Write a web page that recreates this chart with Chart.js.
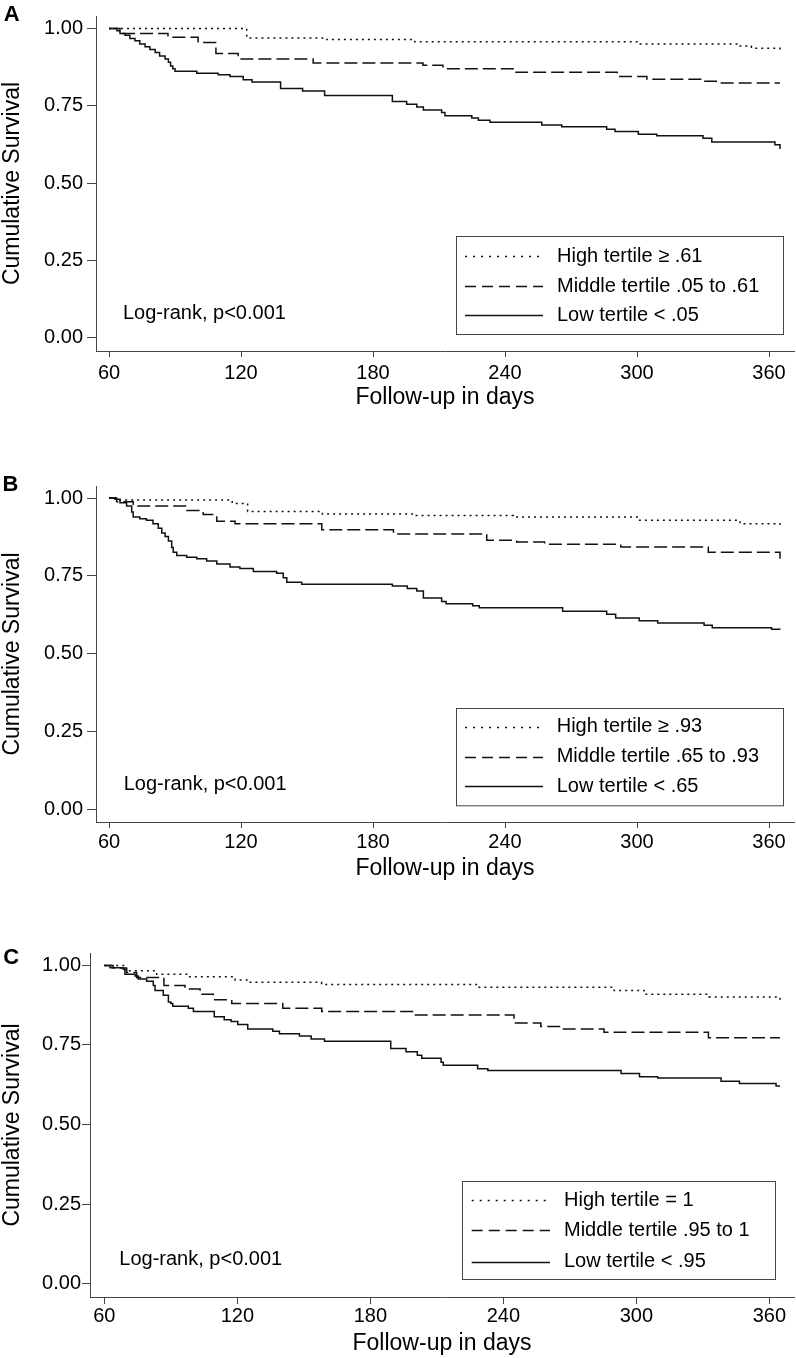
<!DOCTYPE html>
<html><head><meta charset="utf-8">
<script src="https://cdn.jsdelivr.net/npm/chart.js@4.4.1/dist/chart.umd.min.js"></script>
<style>
html,body{margin:0;padding:0;background:#fff;}
body{width:796px;height:1358px;position:relative;overflow:hidden;}
.panel{position:absolute;left:0;width:796px;}
canvas{display:block;}
</style></head><body>
<div class="panel" style="top:0px;height:410px"><canvas id="cA" width="796" height="410"></canvas></div>
<div class="panel" style="top:470px;height:411px"><canvas id="cB" width="796" height="411"></canvas></div>
<div class="panel" style="top:940px;height:416px"><canvas id="cC" width="796" height="416"></canvas></div>
<script>
// ---------- tick labels ----------
const xTicks = [60, 120, 180, 240, 300, 360];
const yTicks = [0, 0.25, 0.5, 0.75, 1];
const xTitle = 'Follow-up in days';
const yTitle = 'Cumulative Survival';
const noteText = 'Log-rank, p<0.001';

// ---------- Panel A ----------
const aLabels = ['High tertile \u2265 .61', 'Middle tertile .05 to .61', 'Low tertile < .05'];
const aHighDays = [60, 122.6, 159, 199, 300.6, 346, 352, 365];
const aHighSurv = [1.000, 0.969, 0.964, 0.957, 0.950, 0.943, 0.936, 0.925];
const aMidDays = [60, 65, 86.8, 100.5, 108.6, 118.7, 152.8, 202.7, 211.8, 245, 291, 304.5, 329, 336, 365];
const aMidSurv = [1.000, 0.984, 0.972, 0.955, 0.919, 0.901, 0.888, 0.881, 0.870, 0.858, 0.845, 0.836, 0.829, 0.824, 0.824];
const aLowDays = [60, 63.6, 65, 67.3, 69.5, 71.8, 74, 76.4, 78.6, 81, 83, 85.5, 87, 88, 89, 90, 99.9, 109.6, 115, 121, 125, 138, 148, 158, 188.8, 195.3, 199.9, 202.9, 211.2, 212.7, 224.9, 227.9, 233.2, 256.7, 265.8, 286.2, 290, 300.6, 309, 330, 334, 362.7, 365];
const aLowSurv = [1.000, 0.993, 0.984, 0.978, 0.968, 0.960, 0.950, 0.941, 0.932, 0.922, 0.911, 0.901, 0.891, 0.879, 0.870, 0.862, 0.855, 0.850, 0.845, 0.834, 0.827, 0.806, 0.798, 0.783, 0.764, 0.755, 0.746, 0.736, 0.728, 0.718, 0.710, 0.703, 0.697, 0.688, 0.682, 0.674, 0.667, 0.658, 0.653, 0.645, 0.633, 0.624, 0.610];

// ---------- Panel B ----------
const bLabels = ['High tertile \u2265 .93', 'Middle tertile .65 to .93', 'Low tertile < .65'];
const bHighDays = [60, 63, 116, 123, 157, 199, 243.8, 300.6, 346.8, 365];
const bHighSurv = [1.000, 0.994, 0.983, 0.957, 0.949, 0.944, 0.939, 0.929, 0.918, 0.913];
const bMidDays = [60, 63.5, 71, 95.3, 102.8, 109, 117.3, 156.7, 189.3, 231.7, 245.3, 258, 292.6, 332.4, 365];
const bMidSurv = [1.000, 0.988, 0.975, 0.960, 0.947, 0.926, 0.918, 0.898, 0.885, 0.865, 0.859, 0.852, 0.843, 0.826, 0.805];
const bLowDays = [60, 62.7, 65, 68, 70.3, 71, 74, 77, 80, 82.4, 84, 85.5, 87, 88.5, 89.2, 90.8, 95.3, 99.9, 104.4, 109, 115, 119.5, 125.6, 136.2, 139.2, 140.8, 147.6, 188.8, 195.6, 199.9, 202.9, 211.2, 213.2, 225.3, 228.3, 266.2, 286.2, 290.3, 301, 309.4, 330.5, 334.2, 361.2, 365];
const bLowSurv = [1.000, 0.996, 0.985, 0.975, 0.955, 0.939, 0.934, 0.929, 0.918, 0.903, 0.888, 0.877, 0.862, 0.841, 0.826, 0.816, 0.810, 0.805, 0.798, 0.788, 0.779, 0.774, 0.764, 0.759, 0.744, 0.730, 0.723, 0.718, 0.710, 0.702, 0.679, 0.668, 0.661, 0.654, 0.648, 0.637, 0.627, 0.615, 0.606, 0.599, 0.592, 0.584, 0.579, 0.578];

// ---------- Panel C ----------
const cLabels = ['High tertile = 1', 'Middle tertile .95 to 1', 'Low tertile < .95'];
const cHighDays = [60, 69.3, 83.6, 97.9, 119, 125, 158, 228.4, 290, 303.5, 332.8, 364.8];
const cHighSurv = [1.000, 0.983, 0.972, 0.964, 0.954, 0.947, 0.940, 0.931, 0.921, 0.909, 0.901, 0.880];
const cMidDays = [60, 64, 70.1, 74.6, 86.9, 96.4, 103.2, 109.2, 117.5, 140.5, 158.1, 199.7, 244.8, 256.9, 265.9, 285.4, 332.5, 364.8];
const cMidSurv = [1.000, 0.992, 0.978, 0.962, 0.937, 0.926, 0.909, 0.892, 0.880, 0.865, 0.855, 0.844, 0.819, 0.808, 0.800, 0.790, 0.773, 0.773];
const cLowDays = [60, 62.6, 68.6, 69.3, 73.9, 75.3, 79.1, 82.1, 82.9, 86.6, 88.9, 90, 90.9, 97.9, 100.2, 109.6, 114.1, 117.2, 120.2, 124.7, 136, 139, 148, 153.3, 159.3, 189.2, 196.1, 201.2, 203.2, 211.9, 212.9, 228.4, 233, 293.1, 301.4, 309.6, 338.2, 346.5, 363, 364.8];
const cLowSurv = [1.000, 0.993, 0.988, 0.972, 0.967, 0.957, 0.950, 0.937, 0.921, 0.906, 0.885, 0.880, 0.872, 0.865, 0.855, 0.839, 0.829, 0.824, 0.814, 0.800, 0.793, 0.785, 0.778, 0.769, 0.762, 0.739, 0.729, 0.718, 0.708, 0.696, 0.686, 0.675, 0.670, 0.660, 0.650, 0.646, 0.636, 0.629, 0.621, 0.621];

// ---------- rendering ----------
const FAMILY = '"Liberation Sans", Arial, Helvetica, sans-serif';
Chart.defaults.font.family = FAMILY;
const AXIS = '#454545';
const INK = '#111';

const decor = {
  id: 'kmDecor',
  afterDraw(chart, args, o) {
    const ctx = chart.ctx;
    ctx.save();
    ctx.fillStyle = '#000';
    ctx.font = 'bold 22px ' + FAMILY;
    ctx.textAlign = 'center';
    ctx.textBaseline = 'middle';
    ctx.fillText(o.letter, o.letterX, o.letterY);
    ctx.font = '20px ' + FAMILY;
    ctx.textAlign = 'left';
    ctx.textBaseline = 'alphabetic';
    ctx.fillText(o.note, o.noteX, o.noteY);
    const L = o.legend;
    ctx.strokeStyle = AXIS;
    ctx.lineWidth = 1;
    ctx.strokeRect(Math.round(L.left) + 0.5, Math.round(L.top) + 0.5, L.width, L.height);
    chart.data.datasets.forEach((ds, i) => {
      const y = L.top + L.rows[i];
      ctx.beginPath();
      ctx.setLineDash(ds.legendDash || []);
      ctx.lineWidth = 1.3;
      ctx.strokeStyle = INK;
      ctx.moveTo(L.left + L.lineX0, Math.round(y) + 0.5);
      ctx.lineTo(L.left + L.lineX1, Math.round(y) + 0.5);
      ctx.stroke();
      ctx.setLineDash([]);
      ctx.fillStyle = '#000';
      ctx.textBaseline = 'middle';
      ctx.fillText(ds.label, L.left + L.textX, y);
    });
    ctx.restore();
  }
};

function series(label, days, surv, dash, legendDash) {
  return {
    label: label,
    data: days.map((d, i) => ({ x: d, y: surv[i] })),
    borderColor: INK,
    borderWidth: 1.5,
    borderDash: dash,
    legendDash: legendDash,
    pointRadius: 0,
    fill: false,
    stepped: 'before',
    tension: 0
  };
}

const DOT = [2, 4], DASH = [13, 5];
const DOT_L = [2, 6], DASH_L = [11, 6];

function makeChart(id, labels, high, mid, low, p) {
  new Chart(document.getElementById(id), {
    type: 'line',
    data: {
      datasets: [
        series(labels[0], high[0], high[1], DOT, DOT_L),
        series(labels[1], mid[0], mid[1], DASH, DASH_L),
        series(labels[2], low[0], low[1], [], [])
      ]
    },
    options: {
      responsive: false,
      animation: false,
      events: [],
      layout: { padding: { top: p.padTop, right: 2, left: 0, bottom: 0 } },
      plugins: {
        legend: { display: false },
        tooltip: { enabled: false },
        kmDecor: p.decor
      },
      scales: {
        x: {
          type: 'linear', position: 'bottom', min: p.xMin, max: p.xMax,
          afterBuildTicks: s => { s.ticks = xTicks.map(v => ({ value: v })); },
          afterFit: s => { s.height = 59; },
          grid: { display: true, drawOnChartArea: false, drawTicks: true, tickLength: p.xTl, tickColor: AXIS, tickWidth: 1 },
          border: { display: true, color: AXIS, width: 1 },
          ticks: { padding: p.xPad, color: '#000', font: { size: 20 }, maxRotation: 0, autoSkip: false, callback: v => String(v) },
          title: { display: true, text: xTitle, color: '#000', font: { size: 23, lineHeight: 1 }, padding: { top: 0, bottom: 1.2 } }
        },
        y: {
          type: 'linear', position: 'left', min: p.yMin, max: p.yMax,
          afterBuildTicks: s => { s.ticks = yTicks.map(v => ({ value: v })); },
          afterFit: s => { s.width = p.yWidth; },
          grid: { display: true, drawOnChartArea: false, drawTicks: true, tickLength: p.yTl, tickColor: AXIS, tickWidth: 1 },
          border: { display: true, color: AXIS, width: 1 },
          ticks: { padding: p.yPad, color: '#000', font: { size: 20 }, autoSkip: false, callback: v => Number(v).toFixed(2) },
          title: { display: true, text: yTitle, color: '#000', font: { size: 23, lineHeight: 1 }, padding: { top: 1, bottom: 0 } }
        }
      }
    },
    plugins: [decor]
  });
}

makeChart('cA', aLabels, [aHighDays, aHighSurv], [aMidDays, aMidSurv], [aLowDays, aLowSurv], {
  padTop: 2, xMin: 54.09, xMax: 371.36, yMin: -0.0435, yMax: 1.0404, yWidth: 96,
  xTl: 6, xPad: 4, yTl: 9, yPad: 4,
  decor: { letter: 'A', letterX: 11.7, letterY: 14.5, note: noteText, noteX: 123, noteY: 318.5,
    legend: { left: 456, top: 236, width: 327, height: 98, rows: [20, 50, 79], lineX0: 9, lineX1: 87, textX: 101 } }
});
makeChart('cB', bLabels, [bHighDays, bHighSurv], [bMidDays, bMidSurv], [bLowDays, bLowSurv], {
  padTop: 2.7, xMin: 54.09, xMax: 371.36, yMin: -0.0402, yMax: 1.0389, yWidth: 96,
  xTl: 6, xPad: 2, yTl: 9, yPad: 4,
  decor: { letter: 'B', letterX: 10.5, letterY: 15.3, note: noteText, noteX: 123.7, noteY: 320,
    legend: { left: 456, top: 237.7, width: 327, height: 97.3, rows: [19, 49, 78.3], lineX0: 9, lineX1: 87, textX: 100.7 } }
});
makeChart('cC', cLabels, [cHighDays, cHighSurv], [cMidDays, cMidSurv], [cLowDays, cLowSurv], {
  padTop: 5, xMin: 53.55, xMax: 371.1, yMin: -0.0421, yMax: 1.039, yWidth: 90,
  xTl: 7, xPad: 0, yTl: 8, yPad: 1,
  decor: { letter: 'C', letterX: 11.3, letterY: 17.5, note: noteText, noteX: 119.3, noteY: 325,
    legend: { left: 462, top: 241, width: 313, height: 98, rows: [19, 49, 80.7], lineX0: 9.7, lineX1: 88, textX: 102 } }
});
</script>
</body></html>
